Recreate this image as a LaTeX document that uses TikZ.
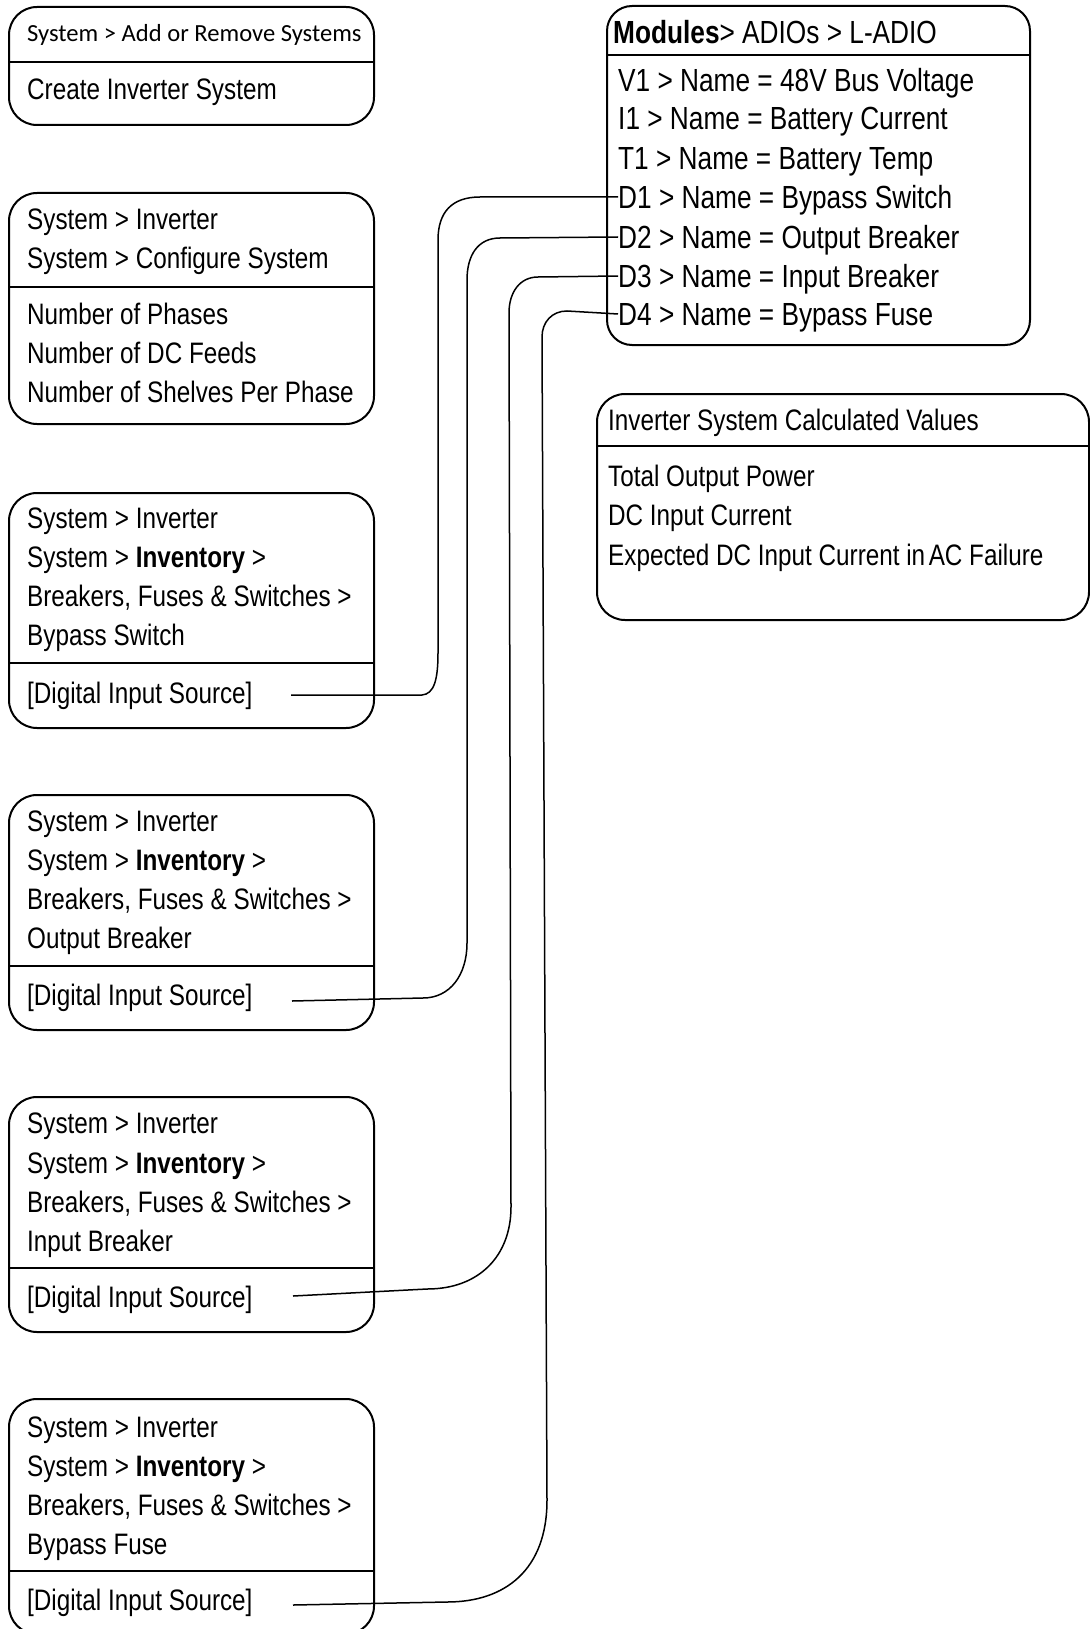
\documentclass[tikz,border=0pt]{standalone}
\usepackage{fontspec}
\setmainfont{Liberation Sans}[FakeStretch=0.82]
\newfontfamily\calib{Carlito}
\begin{document}
\begin{tikzpicture}[x=1pt,y=-1pt,
  box/.style={draw, line width=2pt, rounded corners=28pt, anchor=north west, inner sep=0pt, minimum width=365pt},
  rbox/.style={draw, line width=2pt, rounded corners=25pt, anchor=north west, inner sep=0pt},
  divline/.style={line width=2pt},
  txt/.style={anchor=west, inner sep=0pt, text height=21.3pt, text depth=0pt, font=\fontsize{29.6}{35}\selectfont},
  btxt/.style={anchor=west, inner sep=0pt, text height=23pt, text depth=0pt, font=\fontsize{32}{38}\selectfont},
  ctxt/.style={anchor=west, inner sep=0pt, text height=15.7pt, text depth=0pt, font=\calib\fontsize{24.6}{29}\selectfont},
  conn/.style={line width=1.5pt}]
\useasboundingbox (0,0) rectangle (1089,1629);
\fill[white] (0,0) rectangle (1089,1629);

% left boxes
\node[box, minimum height=118pt] (b1) at (8,6) {};
\node[box, minimum height=231pt] (b2) at (8,192) {};
\node[box, minimum height=235pt] (b3) at (8,492) {};
\node[box, minimum height=235pt] (b4) at (8,794) {};
\node[box, minimum height=235pt] (b5) at (8,1096) {};
\node[box, minimum height=235pt] (b6) at (8,1398) {};
% right boxes
\node[rbox, minimum width=423pt, minimum height=339pt] (mod) at (606,5) {};
\node[rbox, rounded corners=28pt, minimum width=492pt, minimum height=226pt] (calc) at (596,393) {};

% dividers
\draw[divline] (b1.west |- 0,62) -- (b1.east |- 0,62);
\draw[divline] (b2.west |- 0,287) -- (b2.east |- 0,287);
\draw[divline] (b3.west |- 0,663) -- (b3.east |- 0,663);
\draw[divline] (b4.west |- 0,966) -- (b4.east |- 0,966);
\draw[divline] (b5.west |- 0,1268) -- (b5.east |- 0,1268);
\draw[divline] (b6.west |- 0,1571) -- (b6.east |- 0,1571);
\draw[divline] (mod.west |- 0,55) -- (mod.east |- 0,55);
\draw[divline] (calc.west |- 0,446) -- (calc.east |- 0,446);

% box 1
\node[ctxt] (t11) at (27,34) {System > Add or Remove Systems};
\node[txt] (t12) at (27,89) {Create Inverter System};
% box 2
\node[txt] (t21) at (27,219) {System > Inverter};
\node[txt] (t22) at (27,258) {System > Configure System};
\node[txt] (t23) at (27,314) {Number of Phases};
\node[txt] (t24) at (27,353) {Number of DC Feeds};
\node[txt] (t25) at (27,392) {Number of Shelves Per Phase};
% box 3
\node[txt] (t31) at (27,518) {System > Inverter};
\node[txt] (t32) at (27,557) {System > \textbf{Inventory} >};
\node[txt] (t33) at (27,596) {Breakers, Fuses \& Switches >};
\node[txt] (t34) at (27,635) {Bypass Switch};
\node[txt] (t35) at (27,693) {[Digital Input Source]};
% box 4
\node[txt] (t41) at (27,821) {System > Inverter};
\node[txt] (t42) at (27,860) {System > \textbf{Inventory} >};
\node[txt] (t43) at (27,899) {Breakers, Fuses \& Switches >};
\node[txt] (t44) at (27,938) {Output Breaker};
\node[txt] (t45) at (27,995) {[Digital Input Source]};
% box 5
\node[txt] (t51) at (27,1123) {System > Inverter};
\node[txt] (t52) at (27,1163) {System > \textbf{Inventory} >};
\node[txt] (t53) at (27,1202) {Breakers, Fuses \& Switches >};
\node[txt] (t54) at (27,1241) {Input Breaker};
\node[txt] (t55) at (27,1297) {[Digital Input Source]};
% box 6
\node[txt] (t61) at (27,1427) {System > Inverter};
\node[txt] (t62) at (27,1466) {System > \textbf{Inventory} >};
\node[txt] (t63) at (27,1505) {Breakers, Fuses \& Switches >};
\node[txt] (t64) at (27,1544) {Bypass Fuse};
\node[txt] (t65) at (27,1600) {[Digital Input Source]};

% modules box
\node[btxt] (mt) at (613,32) {\textbf{Modules}> ADIOs > L-ADIO};
\node[btxt] (v1) at (618,80) {V1 > Name = 48V Bus Voltage};
\node[btxt] (i1) at (618,118) {I1 > Name = Battery Current};
\node[btxt] (tt1) at (618,158) {T1 > Name = Battery Temp};
\node[btxt] (d1) at (618,197) {D1 > Name = Bypass Switch};
\node[btxt] (d2) at (618,237) {D2 > Name = Output Breaker};
\node[btxt] (d3) at (618,276) {D3 > Name = Input Breaker};
\node[btxt] (d4) at (618,314) {D4 > Name = Bypass Fuse};

% calc box
\node[txt] (ct) at (608,420) {Inverter System Calculated Values};
\node[txt] (c1) at (608,476) {Total Output Power};
\node[txt] (c2) at (608,515) {DC Input Current};
\node[txt] (c3) at (608,555) {Expected DC Input Current in\hspace{0.12em}AC Failure};

% connector ends
\coordinate (e1) at (291,695);
\coordinate (e2) at (292,1001);
\coordinate (e3) at (293,1296);
\coordinate (e4) at (293,1605);

\draw[conn] (d1.west) -- (480,197) .. controls (452,197) and (438,212) .. (438,240)
  -- (438,653) .. controls (438,680) and (434,694) .. (422,695) -- (e1);
\draw[conn] (d2.west) -- (500,238) .. controls (478,238) and (467,255) .. (467,280)
  -- (467,943) .. controls (467,975) and (450,998) .. (423,998) -- (e2);
\draw[conn] (d3.west) -- (538,277) .. controls (520,277) and (509,292) .. (509,313)
  -- (511,1207) .. controls (511,1255) and (480,1289) .. (427,1289) -- (e3);
\draw[conn] (d4.west) -- (567,311) .. controls (552,311) and (542,322) .. (542,337)
  -- (547,1500) .. controls (547,1570) and (505,1602) .. (447,1602) -- (e4);
\end{tikzpicture}
\end{document}
